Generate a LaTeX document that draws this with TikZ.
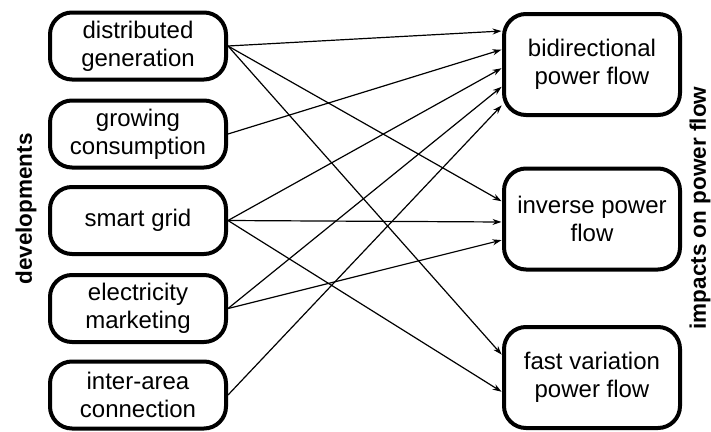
\documentclass[tikz,border=0pt]{standalone}
\usepackage{fontspec}
\setmainfont{Liberation Sans}
\usetikzlibrary{arrows.meta}

\tikzset{
	devbox/.style={draw, line width=4pt, rounded corners=22pt, minimum width=176pt, minimum height=67pt, align=center, inner sep=0pt, font=\fontsize{24}{28}\selectfont},
	impbox/.style={devbox, minimum height=101pt},
	link/.style={line width=1.2pt, -{Stealth[length=9pt,width=6pt]}, shorten >=0.5pt},
	sidelabel/.style={rotate=90, inner sep=0pt, font=\bfseries\fontsize{22.5}{27}\selectfont}
}

\begin{document}
\begin{tikzpicture}[x=1pt, y=-1pt]
	%%%%% START %%%%%
	\useasboundingbox (0,0) rectangle (711,431);
	
	% developments
	\node[devbox] (dg) at (138, 46) {distributed\\generation};
	\node[devbox] (gc) at (138, 134) {growing\\consumption};
	\node[devbox] (sg) at (138, 220.5) {smart grid};
	\node[devbox] (em) at (138, 308.5) {electricity\\marketing};
	\node[devbox] (iac) at (138, 395) {inter-area\\connection};
	
	% impacts
	\node[impbox] (bpf) at (592, 64.5) {bidirectional\\power flow};
	\node[impbox] (ipf) at (592, 219) {inverse power\\flow};
	\node[impbox] (fvpf) at (592, 377.5) {fast variation\\power flow};
	
	\node[sidelabel] (dev) at (26, 209) {developments};
	\node[sidelabel] (imp) at (700, 208) {impacts on power flow};
	
	% into bidirectional power flow
	\draw[link] (dg.east) -- ([yshift=33.5pt]bpf.west);
	\draw[link] (gc.east) -- ([yshift=15pt]bpf.west);
	\draw[link] (sg.east) -- ([yshift=-3.5pt]bpf.west);
	\draw[link] (em.east) -- ([yshift=-22pt]bpf.west);
	\draw[link] (iac.east) -- ([yshift=-40.5pt]bpf.west);
	
	% into inverse power flow
	\draw[link] (dg.east) -- ([yshift=17.5pt]ipf.west);
	\draw[link] (sg.east) -- ([yshift=-3pt]ipf.west);
	\draw[link] (em.east) -- ([yshift=-21pt]ipf.west);
	
	% into fast variation power flow
	\draw[link] (dg.east) -- ([yshift=22.5pt]fvpf.west);
	\draw[link] (sg.east) -- ([yshift=-14.5pt]fvpf.west);
	
	%%%%% END %%%%%
\end{tikzpicture}
\end{document}
